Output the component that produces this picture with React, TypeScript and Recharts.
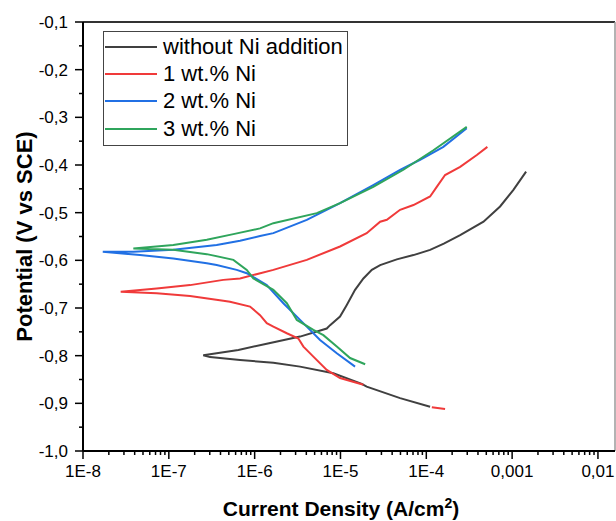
import React from 'react';
import { LineChart, Line, XAxis, YAxis, Legend, ReferenceLine, Label } from 'recharts';

interface Point {
  x: number;
  y: number | null;
}

const FONT = '"Liberation Sans", Arial, sans-serif';

const seriesNames = ['without Ni addition', '1 wt.% Ni', '2 wt.% Ni', '3 wt.% Ni'];
const seriesColors = ['#404040', '#f03a3a', '#2170e4', '#2fa55c'];

// each curve: cathodic end -> corrosion potential tip -> anodic end
const withoutNi: Point[] = [
  { x: 1.107e-4, y: -0.907 }, { x: 4.95e-5, y: -0.889 }, { x: 2.02e-5, y: -0.865 },
  { x: 1.77e-5, y: -0.859 }, { x: 8.26e-6, y: -0.837 }, { x: 3.38e-6, y: -0.823 },
  { x: 1.652e-6, y: -0.815 }, { x: 6.76e-7, y: -0.809 }, { x: 3.02e-7, y: -0.803 },
  { x: 2.52e-7, y: -0.799 },
  { x: 6.46e-7, y: -0.788 }, { x: 1.384e-6, y: -0.775 }, { x: 3.38e-6, y: -0.76 },
  { x: 6.92e-6, y: -0.743 }, { x: 7.57e-6, y: -0.736 }, { x: 9.88e-6, y: -0.718 },
  { x: 1.18e-5, y: -0.694 }, { x: 1.479e-5, y: -0.662 }, { x: 1.85e-5, y: -0.638 },
  { x: 2.32e-5, y: -0.62 }, { x: 2.9e-5, y: -0.61 }, { x: 4.53e-5, y: -0.598 },
  { x: 7.08e-5, y: -0.589 }, { x: 1.107e-4, y: -0.578 }, { x: 1.6e-4, y: -0.565 },
  { x: 2.48e-4, y: -0.547 }, { x: 4.64e-4, y: -0.519 }, { x: 7.24e-4, y: -0.487 },
  { x: 1.035e-3, y: -0.452 }, { x: 1.455e-3, y: -0.414 },
];

const ni1: Point[] = [
  { x: 1.85e-5, y: -0.861 }, { x: 9.88e-6, y: -0.847 }, { x: 6.92e-6, y: -0.83 },
  { x: 4.83e-6, y: -0.802 }, { x: 3.7e-6, y: -0.781 }, { x: 3.23e-6, y: -0.764 },
  { x: 2.37e-6, y: -0.753 }, { x: 1.652e-6, y: -0.739 }, { x: 1.384e-6, y: -0.732 },
  { x: 1.156e-6, y: -0.715 }, { x: 8.83e-7, y: -0.697 }, { x: 5.16e-7, y: -0.687 },
  { x: 4.31e-7, y: -0.685 }, { x: 1.766e-7, y: -0.675 }, { x: 7.23e-8, y: -0.669 },
  { x: 2.75e-8, y: -0.666 },
  { x: 7.23e-8, y: -0.659 }, { x: 1.766e-7, y: -0.652 }, { x: 4.31e-7, y: -0.641 },
  { x: 6.76e-7, y: -0.638 }, { x: 1.652e-6, y: -0.62 }, { x: 4.05e-6, y: -0.599 },
  { x: 9.88e-6, y: -0.571 }, { x: 2.02e-5, y: -0.543 }, { x: 2.9e-5, y: -0.519 },
  { x: 3.47e-5, y: -0.515 }, { x: 4.95e-5, y: -0.494 }, { x: 7.08e-5, y: -0.484 },
  { x: 1.107e-4, y: -0.466 }, { x: 1.324e-4, y: -0.446 }, { x: 1.655e-4, y: -0.421 },
  { x: 2.48e-4, y: -0.404 }, { x: 3.88e-4, y: -0.379 }, { x: 5.15e-4, y: -0.362 },
  { x: 6.0e-4, y: null },
  { x: 1.16e-4, y: -0.908 }, { x: 1.655e-4, y: -0.912 },
];

const ni2: Point[] = [
  { x: 1.479e-5, y: -0.823 }, { x: 9.06e-6, y: -0.795 }, { x: 5.78e-6, y: -0.767 },
  { x: 3.38e-6, y: -0.725 }, { x: 2.16e-6, y: -0.69 }, { x: 1.384e-6, y: -0.652 },
  { x: 8.09e-7, y: -0.627 }, { x: 6.18e-7, y: -0.62 }, { x: 3.61e-7, y: -0.61 },
  { x: 2.77e-7, y: -0.606 }, { x: 1.128e-7, y: -0.596 }, { x: 4.62e-8, y: -0.589 },
  { x: 1.7e-8, y: -0.582 },
  { x: 3.86e-8, y: -0.582 }, { x: 1.128e-7, y: -0.578 }, { x: 3.61e-7, y: -0.568 },
  { x: 6.76e-7, y: -0.559 }, { x: 1.156e-6, y: -0.549 }, { x: 1.652e-6, y: -0.543 },
  { x: 4.05e-6, y: -0.515 }, { x: 9.88e-6, y: -0.48 }, { x: 2.41e-5, y: -0.442 },
  { x: 4.95e-5, y: -0.41 }, { x: 8.47e-5, y: -0.389 }, { x: 1.58e-4, y: -0.362 },
  { x: 2.96e-4, y: -0.323 },
];

const ni3: Point[] = [
  { x: 1.94e-5, y: -0.818 }, { x: 1.294e-5, y: -0.805 }, { x: 9.06e-6, y: -0.781 },
  { x: 6.32e-6, y: -0.757 }, { x: 4.83e-6, y: -0.746 }, { x: 3.1e-6, y: -0.725 },
  { x: 2.37e-6, y: -0.69 }, { x: 1.652e-6, y: -0.662 }, { x: 9.66e-7, y: -0.638 },
  { x: 8.09e-7, y: -0.62 }, { x: 5.65e-7, y: -0.599 }, { x: 2.77e-7, y: -0.587 },
  { x: 1.128e-7, y: -0.578 }, { x: 3.86e-8, y: -0.575 },
  { x: 1.128e-7, y: -0.568 }, { x: 2.77e-7, y: -0.557 }, { x: 5.65e-7, y: -0.545 },
  { x: 1.156e-6, y: -0.533 }, { x: 1.652e-6, y: -0.522 }, { x: 5.3e-6, y: -0.501 },
  { x: 9.88e-6, y: -0.48 }, { x: 2.41e-5, y: -0.446 }, { x: 5.41e-5, y: -0.41 },
  { x: 1.21e-4, y: -0.369 }, { x: 2.96e-4, y: -0.32 },
];

const seriesData = [withoutNi, ni1, ni2, ni3];

const xMajorTicks = [1e-8, 1e-7, 1e-6, 1e-5, 1e-4, 1e-3, 1e-2];
const xMajorLabels = ['1E-8', '1E-7', '1E-6', '1E-5', '1E-4', '0,001', '0,01'];
const xMinorTicks = xMajorTicks.slice(0, -1).flatMap(d => [2, 3, 4, 5, 6, 7, 8, 9].map(m => m * d));
const xDomain = [1e-8, 0.0158];

const yMajorTicks = [-1.0, -0.9, -0.8, -0.7, -0.6, -0.5, -0.4, -0.3, -0.2, -0.1];
const yMinorTicks = [-0.95, -0.85, -0.75, -0.65, -0.55, -0.45, -0.35, -0.25, -0.15];

const XTick = (props: any) => {
  const { x, y, payload } = props;
  const i = xMajorTicks.indexOf(payload.value);
  const top = y - 14;
  return (
    <g>
      <line x1={x} x2={x} y1={top} y2={top + (i >= 0 ? 8 : 4)} stroke="#000" strokeWidth={1.5} />
      {i >= 0 && (
        <text x={x} y={y} dy="0.71em" textAnchor="middle" fontSize={17} fontFamily={FONT} fill="#000">
          {xMajorLabels[i]}
        </text>
      )}
    </g>
  );
};

const YTick = (props: any) => {
  const { x, y, payload } = props;
  const major = yMajorTicks.indexOf(payload.value) >= 0;
  const axisX = x + 15;
  return (
    <g>
      <line x1={axisX - (major ? 8 : 4)} x2={axisX} y1={y} y2={y} stroke="#000" strokeWidth={1.5} />
      {major && (
        <text x={x} y={y} dy="0.35em" textAnchor="end" fontSize={17} fontFamily={FONT} fill="#000">
          {payload.value.toFixed(1).replace('.', ',')}
        </text>
      )}
    </g>
  );
};

const XTitle = (props: any) => {
  const { x, y, width } = props.viewBox;
  return (
    <text x={x + width / 2 - 8} y={y + 65} textAnchor="middle" fontSize={21} fontWeight="bold" fontFamily={FONT} fill="#000">
      Current Density (A/cm
      <tspan dy={-8} fontSize={14}>2</tspan>
      <tspan dy={8}>)</tspan>
    </text>
  );
};

const YTitle = (props: any) => {
  const { y, height } = props.viewBox;
  const cx = 32;
  const cy = y + height / 2;
  return (
    <text x={cx} y={cy} transform={`rotate(-90, ${cx}, ${cy})`} textAnchor="middle" fontSize={22} fontWeight="bold" fontFamily={FONT} fill="#000">
      Potential (V vs SCE)
    </text>
  );
};

const LegendBox = () => (
  <div style={{ border: '1px solid #444', width: 243, paddingTop: 1, paddingBottom: 3, background: '#fff', fontFamily: FONT }}>
    {seriesNames.map((name, i) => (
      <div key={name} style={{ display: 'flex', alignItems: 'center', height: 27.3 }}>
        <span style={{ display: 'inline-block', width: 52, height: 2, background: seriesColors[i], marginLeft: 1, marginRight: 6 }} />
        <span style={{ fontSize: 22, color: '#000', whiteSpace: 'nowrap' }}>{name}</span>
      </div>
    ))}
  </div>
);

export default function App() {
  return (
    <div style={{ position: 'absolute', left: 0, top: 0, background: '#fff' }}>
      <LineChart width={616} height={521} margin={{ top: 22, right: 1, bottom: 0, left: 0 }}>
        <XAxis
          type="number"
          dataKey="x"
          scale="log"
          domain={xDomain}
          allowDataOverflow
          ticks={[...xMajorTicks, ...xMinorTicks]}
          interval={0}
          height={70}
          tickSize={8}
          tickMargin={6}
          tickLine={{ stroke: 'transparent' }}
          axisLine={{ stroke: '#000', strokeWidth: 2 }}
          tick={<XTick />}
        >
          <Label content={<XTitle />} />
        </XAxis>
        <YAxis
          type="number"
          dataKey="y"
          domain={[-1.0, -0.1]}
          allowDataOverflow
          ticks={[...yMajorTicks, ...yMinorTicks]}
          interval={0}
          width={83}
          tickSize={8}
          tickMargin={7}
          tickLine={{ stroke: 'transparent' }}
          axisLine={{ stroke: '#000', strokeWidth: 2 }}
          tick={<YTick />}
        >
          <Label content={<YTitle />} />
        </YAxis>
        <ReferenceLine y={-0.1} stroke="#333" strokeWidth={2} />
        <ReferenceLine x={xDomain[1]} stroke="#9a9a9a" strokeWidth={1.5} />
        {seriesData.map((data, i) => (
          <Line
            key={seriesNames[i]}
            data={data}
            dataKey="y"
            name={seriesNames[i]}
            type="linear"
            stroke={seriesColors[i]}
            strokeWidth={2}
            dot={false}
            activeDot={false}
            isAnimationActive={false}
          />
        ))}
        <Legend
          layout="vertical"
          align="center"
          verticalAlign="middle"
          content={<LegendBox />}
          wrapperStyle={{ position: 'absolute', left: 103, top: 31, width: 'auto', height: 'auto' }}
        />
      </LineChart>
    </div>
  );
}
